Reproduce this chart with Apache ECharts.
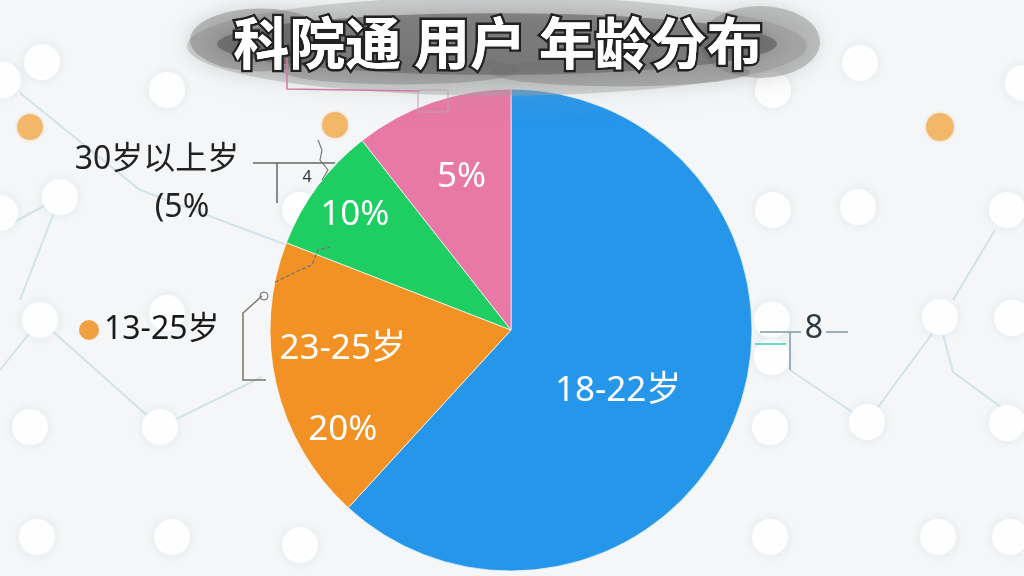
<!DOCTYPE html>
<html>
<head>
<meta charset="utf-8">
<script src="https://cdn.jsdelivr.net/npm/echarts@6/dist/echarts.min.js"></script>
<style>
html,body{margin:0;padding:0;background:#f4f6f7;}
#main{width:1024px;height:576px;}
</style>
</head>
<body>
<div id="main"></div>
<script>
// ---- data ----
var categories = ['18-22岁', '23-25岁', '26-30岁', '30岁以上'];
var sliceValues = [61.8, 19.1, 8.5, 10.6];           // share of circle
var sliceLabels = ['18-22岁', '23-25岁\n20%', '10%', '5%'];
var titleText = '科院通 用户 年龄分布';
var sideLabelTop = ['30岁以上岁', '(5%'];
var sideLabelMid = '13-25岁';
var sideLabelRight = '8';

// ---- styles ----
var sliceColors = ['#2696ea', '#f39224', '#1ece62', '#e878a5'];
var labelShift = [[-8, 16], [-48, 31], [-57, -41], [-9, -36]];
var FONT = "'Noto Sans','Noto Sans CJK SC',sans-serif";

var chart = echarts.init(document.getElementById('main'), null, {renderer: 'canvas'});

var pieData = categories.map(function (c, i) {
  return {name: c, value: sliceValues[i], itemStyle: {color: sliceColors[i]}};
});

// background decoration
var bgCircles = [
  [3,80],[42,62],[167,90],[60,197],[0,213],[773,90],[860,63],[1023,83],[773,210],[858,207],[1007,210],
  [40,320],[167,313],[160,427],[37,537],[172,537],[300,545],
  [772,320],[772,357],[940,317],[1012,318],[867,422],[1007,423],[770,427],[770,537],[938,537],[1010,537],[300,210],[30,427]
];
var bgLines = [
  [[0,370],[40,320],[160,427],[262,377]],
  [[790,370],[867,422],[940,323]],
  [[940,323],[953,372],[1005,410]],
  [[995,230],[953,300]],
  [[20,93],[140,190],[300,250]],
  [[60,197],[0,230]],
  [[60,197],[20,300]]
];
var graphics = [];
bgLines.forEach(function (pts) {
  graphics.push({type: 'polyline', z: -10, shape: {points: pts},
    style: {stroke: '#d3e3ea', lineWidth: 2, fill: null}});
});
bgCircles.forEach(function (p) {
  graphics.push({type: 'circle', z: -9, shape: {cx: p[0], cy: p[1], r: 18},
    style: {fill: 'rgba(255,255,255,0.95)', shadowBlur: 10, shadowColor: 'rgba(190,205,215,0.35)'}});
});
[[30,127,13],[335,125,13],[940,127,14]].forEach(function (p) {
  graphics.push({type: 'circle', z: -8, shape: {cx: p[0], cy: p[1], r: p[2]},
    style: {fill: '#f2b25e', opacity: 0.85, shadowBlur: 3, shadowColor: 'rgba(240,170,80,0.5)'}});
});

// title cloud
var cloudBlobs = [
  [497, 46, 310, 0.16, 'rgba(165,165,165,0.45)', 30],
  [260, 40, 70, 0.45, 'rgba(120,120,120,0.45)', 20],
  [760, 42, 60, 0.6, 'rgba(130,130,130,0.45)', 20],
  [497, 44, 280, 0.11, 'rgba(75,75,75,0.5)', 18],
  [400, 70, 120, 0.12, 'rgba(110,110,110,0.35)', 16],
  [620, 72, 130, 0.11, 'rgba(110,110,110,0.35)', 16]
];
cloudBlobs.forEach(function (b) {
  graphics.push({type: 'circle', z: 50, shape: {cx: 0, cy: 0, r: b[2]}, x: b[0], y: b[1], scaleY: b[3],
    style: {fill: b[4], shadowBlur: b[5], shadowColor: b[4]}});
});
graphics.push({type: 'text', z: 60, x: 498, y: 43,
  style: {text: titleText, font: 'bold 56px "Noto Sans CJK SC"', fill: '#ffffff',
    stroke: '#222', lineWidth: 5, align: 'center', verticalAlign: 'middle',
    shadowBlur: 8, shadowColor: 'rgba(0,0,0,0.6)', shadowOffsetY: 2}});
graphics.push({type: 'text', z: 60, x: 498, y: 43,
  style: {text: titleText, font: 'bold 56px "Noto Sans CJK SC"', fill: '#ffffff',
    align: 'center', verticalAlign: 'middle'}});

// side annotations
graphics.push({type: 'text', z: 60, x: 157, y: 160,
  style: {text: sideLabelTop[0], font: '32px ' + FONT, fill: '#222', align: 'center', verticalAlign: 'middle'}});
graphics.push({type: 'text', z: 60, x: 182, y: 208,
  style: {text: sideLabelTop[1], font: '32px ' + FONT, fill: '#222', align: 'center', verticalAlign: 'middle'}});
graphics.push({type: 'polyline', z: 60, shape: {points: [[253,163],[335,163]]}, style: {stroke: '#666', lineWidth: 1.5, fill: null}});
graphics.push({type: 'polyline', z: 60, shape: {points: [[277,163],[277,203]]}, style: {stroke: '#666', lineWidth: 1.5, fill: null}});
graphics.push({type: 'text', z: 60, x: 307, y: 177,
  style: {text: '4', font: '16px ' + FONT, fill: '#333', align: 'center', verticalAlign: 'middle'}});
graphics.push({type: 'polyline', z: 60, shape: {points: [[318,140],[322,150],[320,160],[328,170],[322,180]]}, style: {stroke: '#777', lineWidth: 1.2, fill: null}});

graphics.push({type: 'circle', z: 60, shape: {cx: 89, cy: 330, r: 10}, style: {fill: '#f0a040'}});
graphics.push({type: 'text', z: 60, x: 104, y: 330,
  style: {text: sideLabelMid, font: '32px ' + FONT, fill: '#1a1a1a', align: 'left', verticalAlign: 'middle'}});
graphics.push({type: 'polyline', z: 60, shape: {points: [[266,380],[243,380],[243,313],[262,296]]}, style: {stroke: '#7a7468', lineWidth: 1.5, fill: null}});
graphics.push({type: 'polyline', z: 60, shape: {points: [[275,282],[300,270],[312,265],[318,250],[330,247]]}, style: {stroke: '#777', lineWidth: 1.3, lineDash: [4, 2], fill: null}});
graphics.push({type: 'circle', z: 60, shape: {cx: 264, cy: 296, r: 4}, style: {fill: 'none', stroke: '#666', lineWidth: 1}});

graphics.push({type: 'text', z: 60, x: 814, y: 329,
  style: {text: sideLabelRight, font: '32px ' + FONT, fill: '#2d3a40', align: 'center', verticalAlign: 'middle'}});
graphics.push({type: 'polyline', z: 60, shape: {points: [[760,332],[801,332]]}, style: {stroke: '#7d97aa', lineWidth: 1.5, fill: null}});
graphics.push({type: 'polyline', z: 60, shape: {points: [[826,332],[848,332]]}, style: {stroke: '#7d97aa', lineWidth: 1.5, fill: null}});
graphics.push({type: 'polyline', z: 60, shape: {points: [[790,332],[790,370]]}, style: {stroke: '#7d97aa', lineWidth: 1.5, fill: null}});
graphics.push({type: 'polyline', z: 60, shape: {points: [[755,344],[786,344]]}, style: {stroke: '#40c8c0', lineWidth: 1.5, fill: null}});

graphics.push({type: 'polyline', z: 60, shape: {points: [[287,58],[287,89],[420,91]]}, style: {stroke: '#d27aa8', lineWidth: 1.5, fill: null}});
graphics.push({type: 'rect', z: 60, shape: {x: 418, y: 90, width: 30, height: 22}, style: {fill: 'none', stroke: '#b7a3ad', lineWidth: 1}});

chart.setOption({
  backgroundColor: '#f4f6f7',
  animation: false,
  graphic: {elements: graphics},
  series: [{
    type: 'pie',
    center: [511, 330],
    radius: [0, 241],
    startAngle: 90,
    clockwise: true,
    silent: true,
    data: pieData,
    itemStyle: {borderColor: 'rgba(255,255,255,0.7)', borderWidth: 1},
    label: {
      show: true,
      position: 'inside',
      color: '#ffffff',
      fontSize: 35,
      fontFamily: FONT,
      lineHeight: 81,
      formatter: function (p) { return sliceLabels[p.dataIndex]; }
    },
    labelLine: {show: false},
    labelLayout: function (p) {
      return {dx: labelShift[p.dataIndex][0], dy: labelShift[p.dataIndex][1]};
    }
  }]
});
</script>
</body>
</html>
